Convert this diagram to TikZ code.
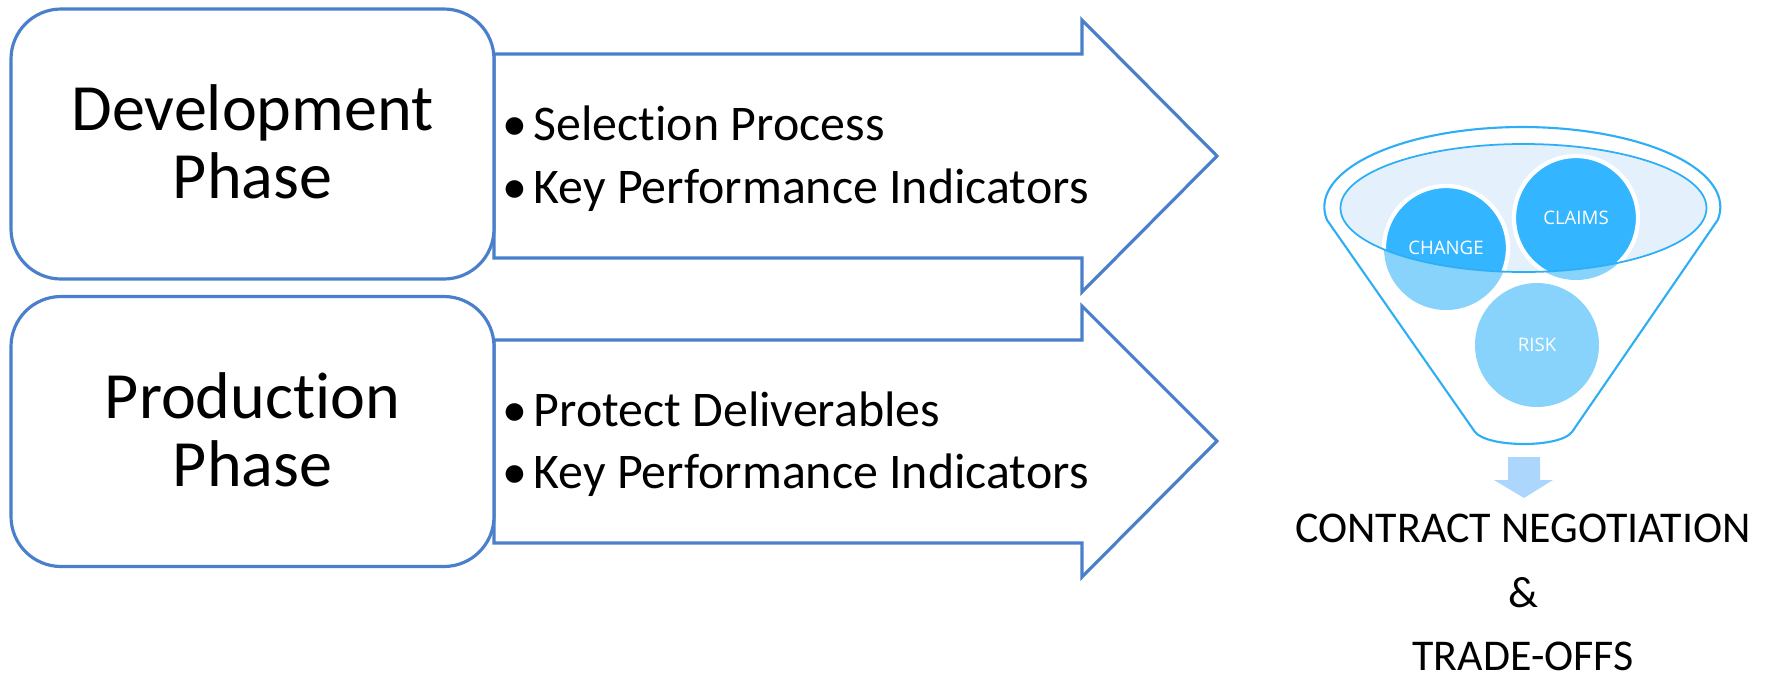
\documentclass[tikz,border=0pt]{standalone}
\usepackage{fontspec}
\setmainfont{Carlito}[Ligatures=NoCommon]
\newfontfamily\ballfont{Open Sans}
\usetikzlibrary{calc}

\definecolor{phaseblue}{HTML}{4A7FCB}
\definecolor{funnelblue}{HTML}{2EAEF5}
\definecolor{rimfill}{HTML}{E4F1FD}
\definecolor{balldark}{HTML}{33B5FF}
\definecolor{balllight}{HTML}{87D3FB}
\definecolor{downblue}{HTML}{ADD6FD}

\begin{document}
\begin{tikzpicture}[x=0.1mm,y=0.1mm,
  phasebox/.style={draw=phaseblue, line width=0.9pt, rounded corners=5mm, fill=white,
    minimum width=48.3mm, minimum height=27mm, inner sep=0pt},
  phaselabel/.style={align=center, inner sep=0pt, font=\fontsize{18.8}{19.35}\selectfont},
  phasearrow/.style={draw=phaseblue, line width=0.9pt, fill=white, line join=miter},
  bulletitem/.style={anchor=base west, inner sep=0pt, font=\fontsize{14.2}{17}\selectfont},
  ball/.style={circle, minimum size=12.4mm, inner sep=0pt, text=white,
    font=\ballfont\fontsize{5.3}{6}\selectfont},
  outcome/.style={anchor=base, inner sep=0pt, font=\fontsize{12.5}{15}\selectfont}
]
\useasboundingbox (0,0) rectangle (1775,-677);

% ---- phase arrows ----
\draw[phasearrow] (494,-54) -- (1082,-54) -- (1082,-20) -- (1217,-156)
  -- (1082,-292) -- (1082,-258) -- (494,-258) -- cycle;
\draw[phasearrow] (494,-340) -- (1082,-340) -- (1082,-306) -- (1217,-441)
  -- (1082,-577) -- (1082,-543) -- (494,-543) -- cycle;

% ---- phase boxes ----
\node[phasebox] (dev) at (252.5,-144) {};
\node[phasebox] (prod) at (252.5,-431.5) {};
\node[phaselabel, yshift=0.2mm] (devlabel) at (dev.center) {Development\\Phase};
\node[phaselabel, yshift=0.2mm] (prodlabel) at (prod.center) {Production\\Phase};

% ---- bullet lists ----
\node[bulletitem] (dev1) at (502,-140) {\makebox[3.1mm][l]{\textbullet}Selection Process};
\node[bulletitem] (dev2) at (502,-203) {\makebox[3.1mm][l]{\textbullet}Key Performance Indicators};
\node[bulletitem] (prod1) at (502,-426) {\makebox[3.1mm][l]{\textbullet}Protect Deliverables};
\node[bulletitem] (prod2) at (502,-488) {\makebox[3.1mm][l]{\textbullet}Key Performance Indicators};

% ---- funnel body: upper rim arc, sloping sides and rounded spout ----
\draw[funnelblue, line width=0.6pt, fill=white]
  (1327,-220) arc[start angle=189.35, end angle=-9.35, x radius=198, y radius=80]
  -- (1572,-432) .. controls (1560,-448) and (1488,-448) .. (1475,-432) -- cycle;

% inner rim surface
\fill[rimfill] (1523.5,-208) ellipse[x radius=183, y radius=64];

% balls, light where they sit below the rim
\fill[balllight] (1446,-248) circle[radius=62];
\fill[balllight] (1576,-218) circle[radius=62];
\fill[balllight] (1537,-345) circle[radius=62];

% balls, saturated inside the rim
\begin{scope}
  \clip (1523.5,-208) ellipse[x radius=183, y radius=64];
  \filldraw[fill=balldark, draw=white, line width=1.2pt] (1446,-248) circle[radius=62];
  \filldraw[fill=balldark, draw=white, line width=1.2pt] (1576,-218) circle[radius=62];
\end{scope}

\draw[funnelblue, line width=0.5pt] (1523.5,-208) ellipse[x radius=183, y radius=64];

\node[ball] (change) at (1446,-248) {CHANGE};
\node[ball] (claims) at (1576,-218) {CLAIMS};
\node[ball] (risk) at (1537,-345) {RISK};

% ---- output arrow and result ----
\fill[downblue] (1508,-457) -- (1540,-457) -- (1540,-480) -- (1553,-480)
  -- (1524,-498) -- (1494,-480) -- (1508,-480) -- cycle;

\node[outcome] (negotiation) at (1523,-542) {CONTRACT NEGOTIATION};
\node[outcome] (amp) at (1523,-607) {\&};
\node[outcome] (tradeoffs) at (1523,-670) {TRADE-OFFS};
\end{tikzpicture}
\end{document}
